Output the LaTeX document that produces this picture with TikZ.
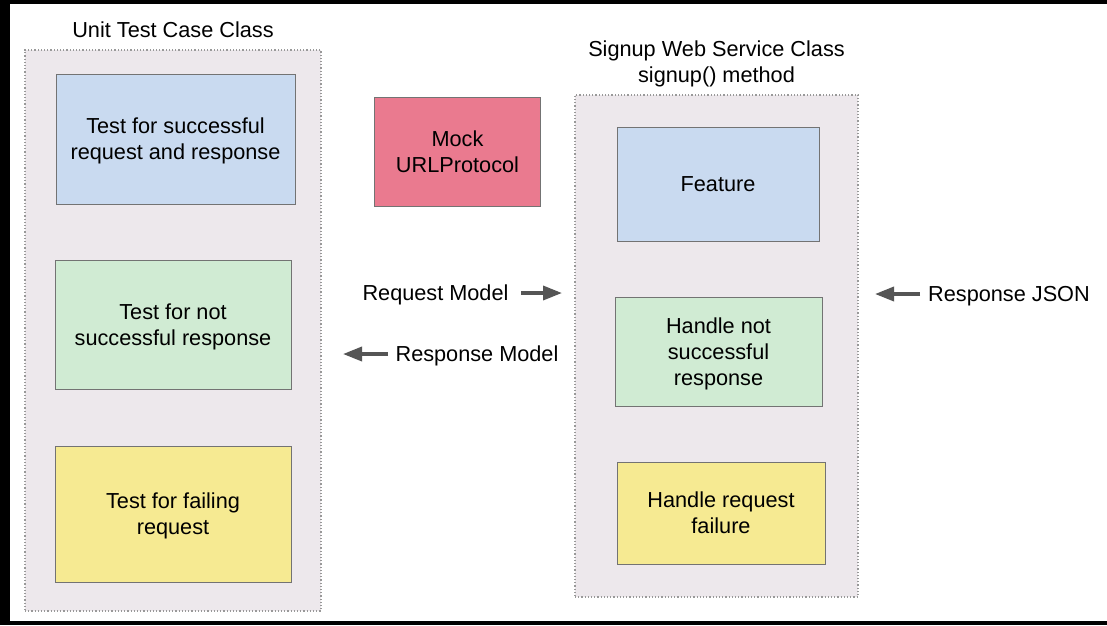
\documentclass[tikz,border=0pt]{standalone}
\usepackage{fontspec}
\setmainfont{Liberation Sans}
\usepackage{xcolor}
\usepackage{tikz}
\usetikzlibrary{arrows.meta,positioning}
\definecolor{classgray}{RGB}{237,232,236}
\definecolor{testblue}{RGB}{201,218,240}
\definecolor{testgreen}{RGB}{208,235,211}
\definecolor{testyellow}{RGB}{246,234,146}
\definecolor{mockpink}{RGB}{234,122,143}
\definecolor{arrowgray}{RGB}{85,85,85}

\begin{document}
\begin{tikzpicture}[x=1pt,y=-1pt,
    every node/.style={font=\fontsize{21.7}{26}\selectfont, align=center, inner sep=0pt},
    classbox/.style={draw=gray!80, dash pattern=on 1.2pt off 2pt, line width=1.2pt, fill=classgray},
    casebox/.style={draw=gray!90!black, line width=1pt, text depth=0pt},
    flow/.style={line width=3.5pt, draw=arrowgray, -{Triangle[length=19pt,width=14pt]}}]
    % Frame
    \fill[black] (0,0) rectangle (1107,625);
    \fill[white] (10,4) rectangle (1107,621);
    \useasboundingbox (0,0) rectangle (1107,625);

    % Unit test class
    \node (unittitle) at (173,30) {Unit Test Case Class};
    \node[classbox, minimum width=296pt, minimum height=561pt] (unit) at (173,330.5) {};
    \node[casebox, fill=testblue, minimum width=239pt, minimum height=130pt] (okcase) at (175.5,139)
      {Test for successful\\request and response};
    \node[casebox, fill=testgreen, minimum width=236pt, minimum height=129pt] (notokcase) at (173,324.5)
      {Test for not\\successful response};
    \node[casebox, fill=testyellow, minimum width=236pt, minimum height=136pt] (failcase) at (173,514)
      {Test for failing\\request};

    % Mock
    \node[casebox, fill=mockpink, minimum width=166pt, minimum height=109pt] (mock) at (457.5,151.5)
      {Mock\\URLProtocol};

    % Signup web service class
    \node (signuptitle) at (716.5,63.5) {Signup Web Service Class\\signup() method};
    \node[classbox, minimum width=283pt, minimum height=502pt] (signup) at (716.5,346) {};
    \node[casebox, fill=testblue, minimum width=202pt, minimum height=114pt] (feature) at (718,184)
      {Feature};
    \node[casebox, fill=testgreen, minimum width=207pt, minimum height=109pt] (notok) at (718.5,351.5)
      {Handle not\\successful\\response};
    \node[casebox, fill=testyellow, minimum width=208pt, minimum height=102pt] (failure) at (721,513)
      {Handle request\\failure};

    % Labels
    \node (reqlbl) at (435.5,295) {Request Model};
    \node (resplbl) at (477,356) {Response Model};
    \node (jsonlbl) at (1009,296) {Response JSON};

    % Arrows
    \coordinate (reqtail) at (521,293);
    \coordinate (reqhead) at (562,293);
    \coordinate (resptail) at (388,354);
    \coordinate (resphead) at (343,354);
    \coordinate (jsontail) at (920,294);
    \coordinate (jsonhead) at (875,294);
    \draw[flow] (reqtail) -- (reqhead);
    \draw[flow] (resptail) -- (resphead);
    \draw[flow] (jsontail) -- (jsonhead);
\end{tikzpicture}
\end{document}
